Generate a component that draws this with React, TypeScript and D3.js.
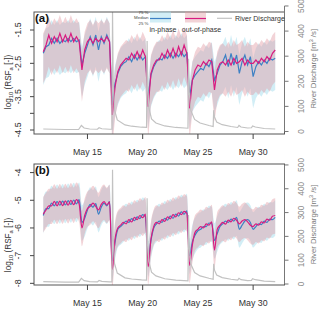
import React from 'react';
import * as d3 from 'd3';

// ---------- DATA ----------
const T0 = 11; // May 11, 00:00 (day of May)
const STEP = 0.25; // days between samples

// Panel (a) medians, log10(RSF)
const aOutMedian = [
  -2.15, -1.95, -1.65, -1.9, -1.7, -1.85, -1.6, -1.85, -1.65, -1.85,
  -1.6, -1.85, -1.7, -1.85, -2.7, -2.1, -1.85, -1.75, -1.9, -1.75,
  -1.85, -1.75, -1.85, -1.7, -1.85, -4.05, -3.2, -2.75, -2.55, -2.45,
  -2.35, -2.4, -2.2, -2.35, -2.15, -2.35, -2.1, -2.3, -3.8, -2.8,
  -2.55, -2.4, -2.4, -2.2, -2.35, -2.1, -2.3, -2.05, -2.3, -2.0,
  -2.25, -1.95, -2.2, -3.85, -3.0, -2.7, -2.55, -2.6, -2.45, -2.55,
  -2.4, -2.45, -3.3, -2.7, -2.5, -2.45, -2.55, -2.4, -2.55, -2.35,
  -2.5, -2.45, -2.35, -2.55, -2.4, -2.5, -2.5, -2.4, -2.5, -2.35,
  -2.45, -2.3, -2.4, -2.2, -2.1,
];
const aInMedian = [
  -2.2, -2.0, -1.95, -1.75, -1.9, -1.75, -1.9, -1.8, -1.85, -1.75,
  -1.85, -1.75, -1.85, -1.8, -2.55, -2.2, -1.95, -1.7, -1.95, -1.65,
  -2.1, -1.7, -1.9, -1.65, -1.85, -3.75, -3.1, -2.8, -2.6, -2.5,
  -2.45, -2.3, -2.45, -2.25, -2.4, -2.25, -2.4, -2.3, -3.5, -2.85,
  -2.6, -2.45, -2.35, -2.4, -2.25, -2.35, -2.2, -2.35, -2.2, -2.3,
  -2.15, -2.3, -2.2, -3.5, -3.0, -2.85, -2.75, -2.65, -2.7, -2.5,
  -2.6, -2.4, -3.0, -2.8, -2.55, -2.45, -2.25, -2.6, -2.2, -2.55,
  -2.25, -2.8, -2.45, -2.25, -2.55, -2.3, -2.9, -2.6, -2.45, -2.55,
  -2.4, -2.5, -2.35, -2.4, -2.35,
];
// Panel (b) medians
const bOutMedian = [
  -5.5, -5.35, -5.2, -5.2, -5.04, -5.2, -5.03, -5.19, -5.02, -5.18,
  -5.0, -5.16, -4.98, -5.14, -6.0, -5.55, -5.3, -5.22, -5.1, -5.22,
  -5.35, -5.15, -5.05, -5.17, -5.06, -7.5, -6.4, -6.0, -5.9, -5.8,
  -5.85, -5.7, -5.78, -5.62, -5.7, -5.55, -5.63, -5.5, -7.4, -6.4,
  -5.95, -5.8, -5.85, -5.7, -5.76, -5.6, -5.67, -5.52, -5.6, -5.45,
  -5.52, -5.4, -5.47, -7.35, -6.6, -6.15, -6.05, -5.95, -6.0, -5.85,
  -5.9, -5.78, -6.8, -6.05, -5.9, -5.8, -5.86, -5.72, -5.78, -5.65,
  -5.72, -5.85, -5.75, -5.7, -5.78, -5.9, -5.95, -5.85, -5.9, -5.78,
  -5.82, -5.68, -5.72, -5.58, -5.55,
];
const bInMedian = [
  -5.55, -5.3, -5.3, -5.1, -5.2, -5.05, -5.18, -5.03, -5.17, -5.01,
  -5.15, -4.99, -5.13, -4.98, -5.8, -5.65, -5.35, -5.15, -5.25, -5.12,
  -5.5, -5.25, -5.1, -5.2, -5.05, -7.2, -6.5, -6.05, -5.95, -5.85,
  -5.75, -5.8, -5.66, -5.74, -5.6, -5.66, -5.52, -5.6, -7.1, -6.45,
  -6.0, -5.85, -5.75, -5.8, -5.65, -5.72, -5.57, -5.65, -5.5, -5.57,
  -5.42, -5.5, -5.38, -7.0, -6.5, -6.25, -6.1, -6.05, -5.95, -5.95,
  -5.82, -5.85, -6.45, -6.2, -5.95, -5.85, -5.75, -5.8, -5.68, -5.75,
  -5.62, -6.05, -5.9, -5.75, -5.7, -5.8, -6.05, -5.95, -5.85, -5.88,
  -5.75, -5.8, -5.68, -5.7, -5.62,
];
// 25-75 % spread around the median (log units)
const aUpperSpread = 0.55;
const aLowerSpread = 0.95;
const bUpperSpread = 0.62;
const bLowerSpread = 0.66;

// River discharge (m3/s)
const dischargeDay = [
  11.0, 12.0, 13.0, 14.2, 14.45, 14.7, 15.2, 15.9, 16.05, 16.3,
  17.0, 17.22, 17.27, 17.33, 17.45, 17.7, 18.4, 19.0, 19.9, 20.35,
  20.4, 20.46, 20.56, 20.8, 21.2, 22.0, 23.0, 24.1, 24.15, 24.21,
  24.35, 24.7, 25.2, 26.0, 26.38, 26.43, 26.5, 26.7, 27.2, 28.0,
  28.6, 28.72, 28.9, 29.5, 29.85, 29.95, 30.2, 31.0, 32.0,
];
const dischargeVal = [
  10, 9, 8, 8, 24, 14, 10, 9, 15, 11,
  9, 9, 480, 200, 86, 46, 26, 21, 17, 16,
  360, 180, 95, 50, 34, 22, 16, 13, 290, 160,
  85, 48, 34, 24, 20, 85, 58, 38, 27, 20,
  16, 24, 18, 14, 15, 22, 18, 12, 10,
];

const dateTicks = [15, 20, 25, 30];
const dateTickLabels = ['May 15', 'May 20', 'May 25', 'May 30'];
const aLeftTicks = [-1.5, -2, -2.5, -3, -3.5, -4, -4.5];
const aLeftLabels = ['-1.5', '', '-2.5', '', '-3.5', '', '-4.5'];
const bLeftTicks = [-4, -5, -6, -7, -8];
const bLeftLabels = ['-4', '-5', '-6', '-7', '-8'];
const dischargeTicks = [0, 100, 200, 300, 400, 500];

// ---------- STYLE ----------
const FONT = 'Liberation Sans, Arial, Helvetica, sans-serif';
const BLUE = '#3d80c4';
const PINK = '#d81b80';
const CYAN_FILL = 'rgb(165,222,238)';
const CYAN_OP = 0.5;
const PINK_FILL = 'rgb(225,150,160)';
const PINK_OP = 0.42;
const GRAY = '#c2c2c2';
const LEFT = 34;
const RIGHT = 284.5;

const times = aOutMedian.map((_, i) => T0 + i * STEP);

type PanelProps = {
  id: string;
  top: number;
  bottom: number;
  yDomain: [number, number];
  qDomain: [number, number];
  outMed: number[];
  inMed: number[];
  up: number;
  lo: number;
  leftTicks: number[];
  leftLabels: string[];
  label: string;
  smooth: boolean;
  titleY: number;
};

function Panel(p: PanelProps) {
  const x = d3.scaleLinear().domain([10.16, 32.84]).range([LEFT, RIGHT]);
  const y = d3.scaleLinear().domain(p.yDomain).range([p.bottom, p.top]);
  const q = d3.scaleLinear().domain(p.qDomain).range([p.bottom, p.top]);
  const curve = p.smooth ? d3.curveMonotoneX : d3.curveLinear;
  const area = (m: number[]) =>
    d3
      .area<number>()
      .x((_, i) => x(times[i]))
      .y0((v) => y(v - p.lo))
      .y1((v) => y(v + p.up))
      .curve(curve)(m) || '';
  const line = (m: number[]) =>
    d3
      .line<number>()
      .x((_, i) => x(times[i]))
      .y((v) => y(v))
      .curve(curve)(m) || '';
  const qLine =
    d3
      .line<number>()
      .x((_, i) => x(dischargeDay[i]))
      .y((v) => q(v))(dischargeVal) || '';
  const clipId = 'clip-' + p.id;
  const q0 = q(0);
  const q500 = q(500);
  return (
    <g>
      <defs>
        <clipPath id={clipId}>
          <rect x={LEFT} y={p.top} width={RIGHT - LEFT} height={p.bottom - p.top} />
        </clipPath>
      </defs>
      <g clipPath={`url(#${clipId})`}>
        <path d={area(p.inMed)} fill={CYAN_FILL} fillOpacity={CYAN_OP} />
        <path d={area(p.outMed)} fill={PINK_FILL} fillOpacity={PINK_OP} />
        <path d={line(p.inMed)} fill="none" stroke={BLUE} strokeWidth={1.2} />
        <path d={line(p.outMed)} fill="none" stroke={PINK} strokeWidth={1.2} />
        <path d={qLine} fill="none" stroke={GRAY} strokeWidth={1.2} />
      </g>
      <rect x={LEFT} y={p.top} width={RIGHT - LEFT} height={p.bottom - p.top} fill="none" stroke="#555" strokeWidth={1} />
      {/* left axis */}
      {p.leftTicks.map((t, i) => (
        <g key={'l' + i}>
          <line x1={LEFT - 4} x2={LEFT} y1={y(t)} y2={y(t)} stroke="#444" />
          {p.leftLabels[i] && (
            <text
              transform={`translate(18,${y(t)}) rotate(-90)`}
              textAnchor="middle"
              dy="0.35em"
              fontSize={8.8}
              fill="#333"
              fontFamily={FONT}
            >
              {p.leftLabels[i]}
            </text>
          )}
        </g>
      ))}
      <text
        transform={`translate(8,${p.titleY}) rotate(-90)`}
        textAnchor="middle"
        dy="0.35em"
        fontSize={8.2}
        fill="#333"
        fontFamily={FONT}
      >
        log<tspan fontSize={5.8} dy={2}>10</tspan>
        <tspan dy={-2}> (RSF</tspan>
        <tspan fontSize={5.8} dy={2}>a</tspan>
        <tspan dy={-2}> [-])</tspan>
      </text>
      {/* bottom axis */}
      {dateTicks.map((d, i) => (
        <g key={'b' + i}>
          <line x1={x(d)} x2={x(d)} y1={p.bottom} y2={p.bottom + 5} stroke="#444" />
          <text x={x(d)} y={p.bottom + 21} textAnchor="middle" fontSize={8.8} fill="#333" fontFamily={FONT}>
            {dateTickLabels[i]}
          </text>
        </g>
      ))}
      {/* right axis */}
      <line x1={RIGHT} x2={RIGHT} y1={q500} y2={q0} stroke="#777" />
      {dischargeTicks.map((t, i) => (
        <g key={'r' + i}>
          <line x1={RIGHT} x2={RIGHT + 4} y1={q(t)} y2={q(t)} stroke="#777" />
          <text
            transform={`translate(301,${q(t)}) rotate(-90)`}
            textAnchor="middle"
            dy="0.35em"
            fontSize={8.4}
            fill="#888"
            fontFamily={FONT}
          >
            {t}
          </text>
        </g>
      ))}
      <text
        transform={`translate(313,${(q0 + q500) / 2}) rotate(-90)`}
        textAnchor="middle"
        dy="0.35em"
        fontSize={7.8}
        fill="#777"
        fontFamily={FONT}
      >
        River Discharge [m<tspan fontSize={5.4} dy={-3}>3</tspan>
        <tspan dy={3}> /s]</tspan>
      </text>
      <text x={35} y={p.top + 9.5} fontSize={11.5} fontWeight="bold" fill="#111" fontFamily={FONT}>
        {p.label}
      </text>
    </g>
  );
}

function Legend() {
  return (
    <g fontFamily={FONT}>
      <text x={148.5} y={13.5} textAnchor="end" fontSize={4.4} fill="#444">75 %</text>
      <text x={148.5} y={18.8} textAnchor="end" fontSize={4.4} fill="#444">Median</text>
      <text x={148.5} y={24.5} textAnchor="end" fontSize={4.4} fill="#444">25 %</text>
      <rect x={150} y={11.5} width={21} height={11} fill={CYAN_FILL} fillOpacity={CYAN_OP} />
      <line x1={150} x2={171} y1={18.5} y2={18.5} stroke={BLUE} strokeWidth={1.2} />
      <rect x={185} y={11.5} width={21} height={11} fill={PINK_FILL} fillOpacity={PINK_OP} />
      <line x1={185} x2={206} y1={18.5} y2={18.5} stroke={PINK} strokeWidth={1.2} />
      <text x={163} y={32} textAnchor="middle" fontSize={7} fill="#333">in-phase</text>
      <text x={201.5} y={32} textAnchor="middle" fontSize={7} fill="#333">out-of-phase</text>
      <line x1={217} x2={232} y1={18.3} y2={18.3} stroke={GRAY} strokeWidth={1.2} />
      <text x={235} y={20.8} fontSize={7} fill="#333">River Discharge</text>
    </g>
  );
}

export default function App() {
  return (
    <svg
      width={320}
      height={313}
      viewBox="0 0 320 313"
      style={{ position: 'absolute', left: 0, top: 0, background: '#fff' }}
    >
      <rect width={320} height={313} fill="#fff" />
      <Panel
        id="a"
        top={12}
        bottom={134}
        yDomain={[-4.62, -0.96]}
        qDomain={[-10, 476]}
        outMed={aOutMedian}
        inMed={aInMedian}
        up={aUpperSpread}
        lo={aLowerSpread}
        leftTicks={aLeftTicks}
        leftLabels={aLeftLabels}
        label="(a)"
        smooth={false}
        titleY={82}
      />
      <Panel
        id="b"
        top={164}
        bottom={285}
        yDomain={[-8.06, -3.69]}
        qDomain={[-4.2, 504]}
        outMed={bOutMedian}
        inMed={bInMedian}
        up={bUpperSpread}
        lo={bLowerSpread}
        leftTicks={bLeftTicks}
        leftLabels={bLeftLabels}
        label="(b)"
        smooth={true}
        titleY={245}
      />
      <Legend />
    </svg>
  );
}
